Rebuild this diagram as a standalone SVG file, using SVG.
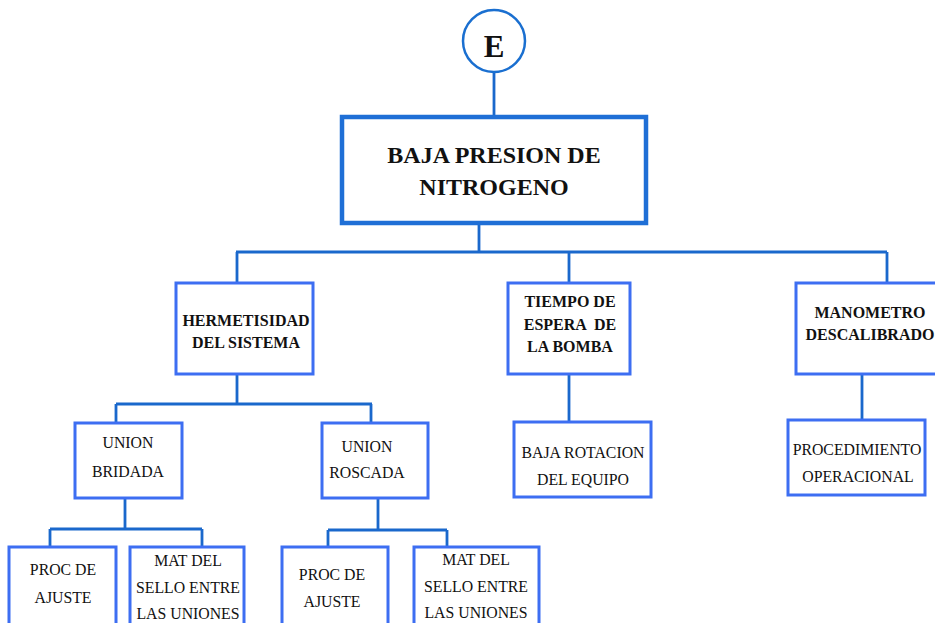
<svg xmlns="http://www.w3.org/2000/svg" width="935" height="623" viewBox="0 0 935 623">
<style>
.box{fill:#fff;stroke:#3d6ef2;stroke-width:3}
.main{fill:#fff;stroke:#1f6fd6;stroke-width:4.5}
.conn{fill:none;stroke:#1a68cc;stroke-width:2.8}
text{font-family:'Liberation Serif','Tinos','Times New Roman','DejaVu Serif',serif;fill:#111;text-anchor:middle}
.b{font-weight:bold;font-size:16px}
.r{font-size:15.8px}
.t{font-weight:bold;font-size:24px}
</style>
<rect width="935" height="623" fill="#fff"/>
<g id="connectors">
<path class="conn" d="M494 72V117"/>
<path class="conn" d="M479 223V252M236 252H887M237 252V283M569 252V283M887 252V283"/>
<path class="conn" d="M237 374V404M116 404H372M116 404V423M371 404V423"/>
<path class="conn" d="M125 498V529M50 529H202M50 529V547M202 529V547"/>
<path class="conn" d="M378 498V530M328 530H447M328 530V547M447 530V547"/>
<path class="conn" d="M569 374V422"/>
<path class="conn" d="M862 374V420"/>
</g>
<g id="E">
<circle cx="494" cy="41" r="31" fill="#fff" stroke="#1a6fd0" stroke-width="2.5"/>
<text x="494" y="57" style="font-weight:bold;font-size:31px">E</text>
</g>
<g id="root">
<rect class="main" x="342" y="117" width="304" height="106"/>
<text class="t" x="494" y="163">BAJA PRESION DE</text>
<text class="t" x="494" y="195">NITROGENO</text>
</g>
<g id="hermetisidad">
<rect class="box" x="176" y="283" width="137" height="91"/>
<text class="b" x="246" y="326">HERMETISIDAD</text>
<text class="b" x="246" y="348">DEL SISTEMA</text>
</g>
<g id="tiempo">
<rect class="box" x="508" y="283" width="122" height="91"/>
<text class="b" x="570" y="307">TIEMPO DE</text>
<text class="b" x="570" y="330" xml:space="preserve">ESPERA  DE</text>
<text class="b" x="570" y="352">LA BOMBA</text>
</g>
<g id="manometro">
<rect class="box" x="796" y="283" width="150" height="91"/>
<text class="b" x="870" y="318">MANOMETRO</text>
<text class="b" x="870" y="340">DESCALIBRADO</text>
</g>
<g id="union-bridada">
<rect class="box" x="75" y="423" width="107" height="75"/>
<text class="r" x="128" y="448">UNION</text>
<text class="r" x="128" y="477">BRIDADA</text>
</g>
<g id="union-roscada">
<rect class="box" x="322" y="423" width="106" height="75"/>
<text class="r" x="367" y="452">UNION</text>
<text class="r" x="367" y="478">ROSCADA</text>
</g>
<g id="baja-rotacion">
<rect class="box" x="514" y="422" width="137" height="75"/>
<text class="r" x="583" y="458">BAJA ROTACION</text>
<text class="r" x="583" y="485">DEL EQUIPO</text>
</g>
<g id="procedimiento">
<rect class="box" x="788" y="420" width="137" height="75"/>
<text class="r" x="857" y="455">PROCEDIMIENTO</text>
<text class="r" x="858" y="482">OPERACIONAL</text>
</g>
<g id="proc-ajuste-1">
<rect class="box" x="9" y="547" width="107" height="95"/>
<text class="r" x="63" y="575">PROC DE</text>
<text class="r" x="63" y="603">AJUSTE</text>
</g>
<g id="mat-sello-1">
<rect class="box" x="130" y="547" width="114" height="95"/>
<text class="r" x="188" y="566">MAT DEL</text>
<text class="r" x="188" y="593">SELLO ENTRE</text>
<text class="r" x="188" y="619">LAS UNIONES</text>
</g>
<g id="proc-ajuste-2">
<rect class="box" x="282" y="547" width="106" height="95"/>
<text class="r" x="332" y="580">PROC DE</text>
<text class="r" x="332" y="607">AJUSTE</text>
</g>
<g id="mat-sello-2">
<rect class="box" x="414" y="547" width="125" height="95"/>
<text class="r" x="476" y="565">MAT DEL</text>
<text class="r" x="476" y="592">SELLO ENTRE</text>
<text class="r" x="476" y="618">LAS UNIONES</text>
</g>
</svg>
